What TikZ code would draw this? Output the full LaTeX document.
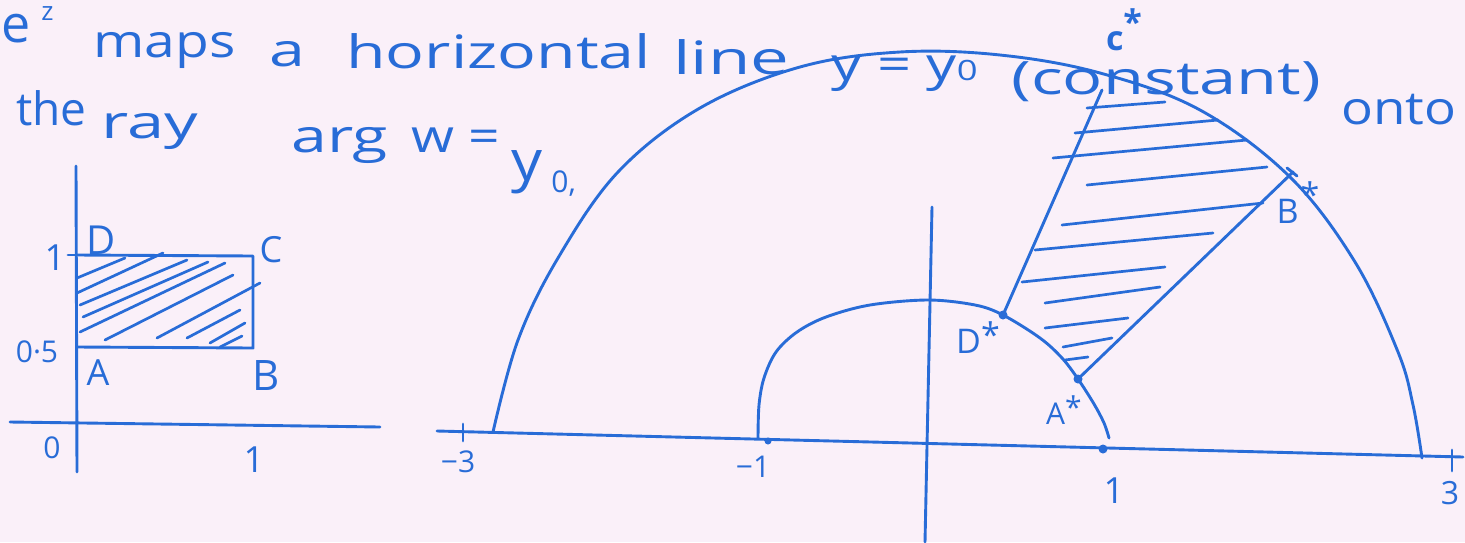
\documentclass[tikz,border=0pt]{standalone}
\usepackage{fontspec}
\setmainfont{Open Sans}
\usepackage{graphicx}
\definecolor{ink}{RGB}{40,108,215}
\definecolor{paper}{RGB}{250,240,249}
\newcommand{\sx}[2]{\scalebox{#1}[1]{#2}}
\begin{document}
\begin{tikzpicture}[x=0.5pt,y=-0.5pt, line width=1.45pt, color=ink, line cap=round, line join=round,
  hw/.style={font=\fontsize{23}{23}\selectfont, inner sep=0pt, anchor=base west, text=ink},
  lab/.style={font=\fontsize{18}{18}\selectfont, inner sep=0pt, text=ink},
  dot/.style={circle, fill=ink, inner sep=0pt, minimum size=4.5pt},
  hatch/.style={line width=1.35pt}]
\fill[paper] (0,0) rectangle (1465,542);
\useasboundingbox (0,0) rectangle (1465,542);

% ---------- heading text ----------
\node[hw, font=\fontsize{26}{26}\selectfont] (t1) at (0,42) {e};
\node[hw, font=\fontsize{13}{13}\selectfont] (t1s) at (40,20) {z};
\node[hw] (t2) at (92,57) {\sx{1.2}{maps}};
\node[hw] (t3) at (268,66) {\sx{1.4}{a}};
\node[hw] (t4) at (345,68) {\sx{1.4}{horizontal}};
\node[hw] (t5) at (672,74) {\sx{1.5}{line}};
\node[hw] (t6) at (830,80) {\sx{1.3}{y = y{\fontsize{14}{14}\selectfont 0}}};
\node[hw] (t7) at (1010,94) {\sx{1.45}{(constant)}};
\node[hw] (t8) at (1340,124) {\sx{1.15}{onto}};
\node[hw] (u1) at (15,125) {the};
\node[hw] (u2) at (100,138) {\sx{1.45}{ray}};
\node[hw] (u3) at (290,152) {\sx{1.4}{arg}};
\node[hw] (u4) at (410,152) {\sx{1.2}{w =}};
\node[hw, font=\fontsize{28}{28}\selectfont] (u5) at (510,180) {\sx{1.1}{y}};
\node[hw, font=\fontsize{15}{15}\selectfont] (u6) at (550,192) {0,};

% ---------- left diagram ----------
\coordinate (lvt) at (76,166);
\coordinate (lvb) at (77,472);
\coordinate (lhl) at (10,422);
\coordinate (lhr) at (380,427);
\draw (lvt) -- (lvb);
\draw (lhl) -- (lhr);
\coordinate (rA) at (77,347);
\coordinate (rB) at (253,348);
\coordinate (rC) at (253,256);
\coordinate (rD) at (77,255);
\draw (rD) -- (rC) -- (rB) -- (rA);
\draw (68,255) -- (rD);
\foreach \a/\b in {{77,278}/{125,258},{77,293}/{163,253},{80,305}/{187,260},{83,317}/{208,262},
  {80,332}/{225,263},{105,340}/{233,275},{157,338}/{260,283},{187,338}/{240,310},
  {210,343}/{245,323},{220,347}/{242,336}}
  \draw[hatch] (\a) -- (\b);
\node[lab, font=\fontsize{20}{20}\selectfont] (lD) at (101,240) {D};
\node[lab] (lC) at (271,250) {C};
\node[lab] (lA) at (98,373) {A};
\node[lab, font=\fontsize{21}{21}\selectfont] (lB) at (266,375) {B};
\node[lab] (l1) at (55,258) {1};
\node[lab, font=\fontsize{15}{15}\selectfont] (l05) at (37,352) {0·5};
\node[lab, font=\fontsize{15}{15}\selectfont] (l0) at (52,448) {0};
\node[lab] (lx1) at (254,460) {1};

% ---------- right diagram ----------
\coordinate (axl) at (437,431);
\coordinate (axr) at (1463,457);
\draw (axl) -- (axr);
\coordinate (ayt) at (932,207);
\coordinate (ayb) at (925,542);
\draw (ayt) -- (ayb);
\draw (463,424) -- (463,441);
\draw (1452,450) -- (1452,471);

% outer arc
\draw plot[smooth, tension=0.6] coordinates {(493,432) (518,340) (558,258) (618,172)
  (700,108) (800,67) (900,52) (1000,55) (1100,73) (1200,110) (1290,177) (1355,262)
  (1398,352) (1413,405) (1422,458)};
% inner arc
\draw plot[smooth, tension=0.55] coordinates {(758,438) (759,405) (764,378) (776,352) (797,332)
  (826,317) (870,305) (928,300) (975,305) (1003,315) (1040,338) (1062,358) (1078,379)
  (1094,404) (1104,423) (1109,438)};

\node[dot] (As) at (1078,379) {};
\node[dot] (Ds) at (1003,315) {};
\node[dot] (p1) at (1103,449) {};
\node[dot, minimum size=3.5pt] (m1) at (768,441) {};
\coordinate (Bs) at (1293,172);
\coordinate (Cs) at (1102,90);
\draw (Ds.center) -- (Cs);
\draw (As.center) -- (Bs);
\draw (1287,168) -- (1297,176);

\foreach \a/\b in {{1087,108}/{1165,102},{1075,133}/{1218,120},{1053,158}/{1247,140},
  {1087,185}/{1267,167},{1062,225}/{1263,203},{1035,250}/{1213,233},{1022,282}/{1165,267},
  {1045,303}/{1160,287},{1045,328}/{1128,318},{1063,347}/{1112,338},{1065,360}/{1088,357}}
  \draw[hatch] (\a) -- (\b);

\node[lab, font=\fontsize{15}{15}\selectfont] (lm3) at (458,462) {−3};
\node[lab, font=\fontsize{15}{15}\selectfont] (lm1) at (753,467) {−1};
\node[lab] (lp1) at (1114,491) {1};
\node[lab, font=\fontsize{16}{16}\selectfont] (lp3) at (1450,493) {3};
\node[lab, font=\fontsize{17}{17}\selectfont] (lDs) at (978,338) {D\raisebox{3pt}{*}};
\node[lab, font=\fontsize{15}{15}\selectfont] (lAs) at (1064,410) {A\raisebox{3pt}{*}};
\node[lab, font=\fontsize{17}{17}\selectfont] (lBs) at (1298,203) {B\hspace{1pt}\raisebox{8pt}{*}};
\node[lab, font=\fontsize{17}{17}\selectfont\bfseries] (lCs) at (1124,30) {c\raisebox{8pt}{*}};
\end{tikzpicture}
\end{document}
